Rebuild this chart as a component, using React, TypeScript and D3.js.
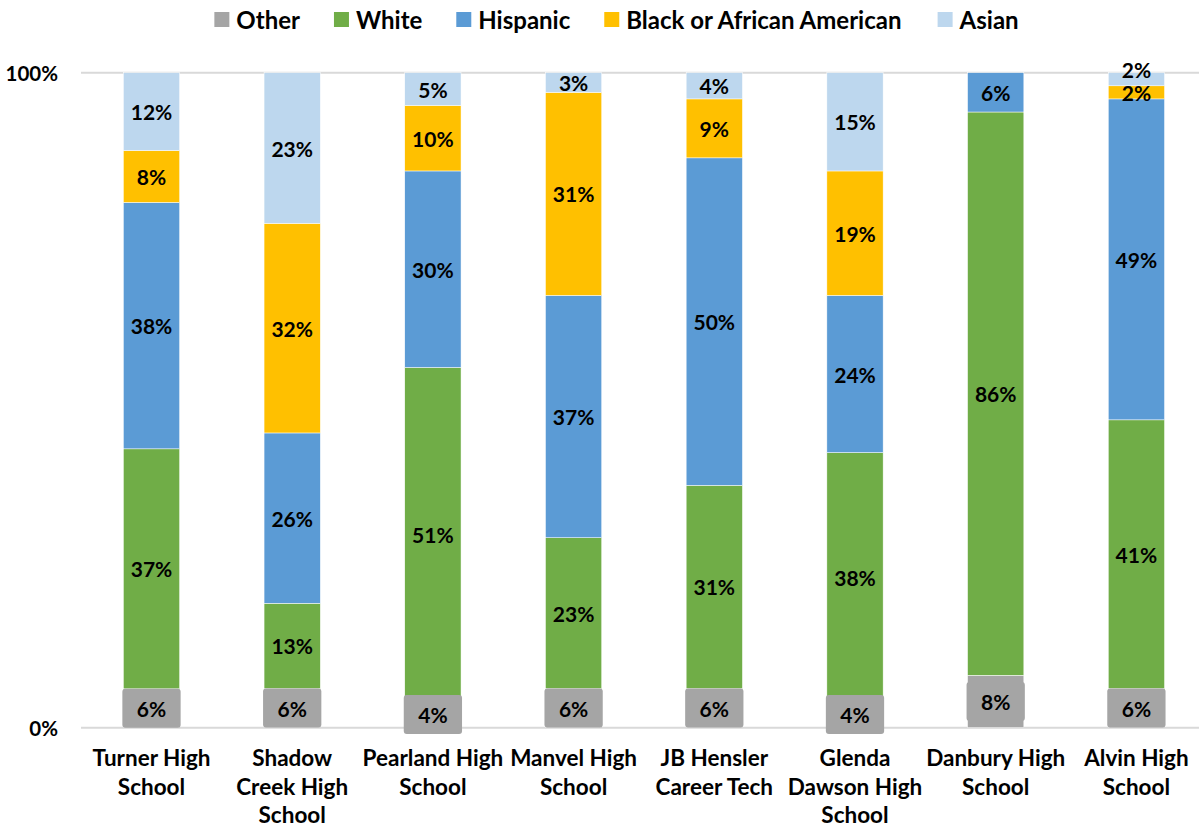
import React, { useMemo } from "react";
import * as d3 from "d3";

const categories = [
  "Turner High\nSchool",
  "Shadow\nCreek High\nSchool",
  "Pearland High\nSchool",
  "Manvel High\nSchool",
  "JB Hensler\nCareer Tech",
  "Glenda\nDawson High\nSchool",
  "Danbury High\nSchool",
  "Alvin High\nSchool",
];
const seriesNames = ["Other", "White", "Hispanic", "Black or African American", "Asian"];
const other = [6, 6, 4, 6, 6, 4, 8, 6];
const white = [37, 13, 51, 23, 31, 38, 86, 41];
const hispanic = [38, 26, 30, 37, 50, 24, 6, 49];
const black = [8, 32, 10, 31, 9, 19, 0, 2];
const asian = [12, 23, 5, 3, 4, 15, 0, 2];
const yTicks = [0, 1];
const seriesColors = ["#A5A5A5", "#70AD47", "#5B9BD5", "#FFC000", "#BDD7EE"];

const W = 1199;
const H = 830;
const FONT = "Lato, 'Open Sans', 'DejaVu Sans', sans-serif";

export default function App() {
  const seriesValues = [other, white, hispanic, black, asian];
  const rows = categories.map((c, i) => {
    const r: Record<string, any> = { cat: c };
    seriesNames.forEach((s, k) => (r[s] = seriesValues[k][i]));
    return r;
  });
  const stacked = d3.stack<any>().keys(seriesNames).offset(d3.stackOffsetExpand)(rows);

  const x = d3.scaleBand<string>().domain(categories).range([81.15, 1206.75]).paddingInner(0.6).paddingOuter(0.3);
  const y = d3.scaleLinear().domain([0, 1]).range([727.7, 72.7]);
  const bw = x.bandwidth();

  const legend = useMemo(() => {
    const canvas = document.createElement("canvas");
    const ctx = canvas.getContext("2d")!;
    ctx.font = `bold 24px ${FONT}`;
    const sq = 15, gapIn = 7, gapOut = 34;
    const widths = seriesNames.map((s) => ctx.measureText(s).width);
    const total = widths.reduce((a, w) => a + sq + gapIn + w, 0) + gapOut * (seriesNames.length - 1);
    let cx = 616.5 - total / 2;
    return seriesNames.map((s, i) => {
      const item = { name: s, x: cx, tx: cx + sq + gapIn, color: seriesColors[i] };
      cx += sq + gapIn + widths[i] + gapOut;
      return item;
    });
  }, []);

  return (
    <div style={{ position: "absolute", left: 0, top: 0 }}>
      <svg width={W} height={H} style={{ display: "block", background: "#fff" }}>
        {yTicks.map((t) => (
          <line key={t} x1={81} x2={W} y1={y(t)} y2={y(t)} stroke="#D9D9D9" strokeWidth={2} />
        ))}
        {yTicks.map((t) => (
          <text
            key={"yl" + t}
            x={58}
            y={y(t)}
            textAnchor="end"
            dominantBaseline="central"
            fontFamily={FONT}
            fontWeight="bold"
            fontSize={20.5}
            fill="#000"
          >
            {d3.format(".0%")(t)}
          </text>
        ))}
        {stacked.map((layer, k) => (
          <g key={layer.key} fill={seriesColors[k]}>
            {layer.map((d, i) => {
              const y0 = y(d[0]);
              const y1 = y(d[1]);
              if (y0 - y1 <= 0) return null;
              return (
                <rect
                  key={i}
                  x={x(categories[i])}
                  y={y1}
                  width={bw}
                  height={y0 - y1}
                  stroke="#fff"
                  strokeWidth={0.5}
                />
              );
            })}
          </g>
        ))}
        {stacked[0].map((d, i) => {
          const cy = (y(d[0]) + y(d[1])) / 2;
          return (
            <rect
              key={"ob" + i}
              x={(x(categories[i]) as number) - 1}
              y={cy - 19.5}
              width={bw + 2}
              height={39}
              rx={3}
              fill={seriesColors[0]}
            />
          );
        })}
        {stacked.map((layer, k) =>
          layer.map((d, i) => {
            const v = seriesValues[k][i];
            if (!v) return null;
            const y0 = y(d[0]);
            const y1 = y(d[1]);
            let cy = (y0 + y1) / 2;
            if (k === stacked.length - 1 && y0 - y1 < 18) cy -= 10;
            return (
              <text
                key={"dl" + k + "-" + i}
                x={(x(categories[i]) as number) + bw / 2}
                y={cy}
                textAnchor="middle"
                dominantBaseline="central"
                fontFamily={FONT}
                fontWeight="bold"
                fontSize={21}
                fill="#000"
              >
                {v + "%"}
              </text>
            );
          })
        )}
        {categories.map((c) => (
          <text
            key={"cl" + c}
            textAnchor="middle"
            fontFamily={FONT}
            fontWeight="bold"
            fontSize={22.5}
            fill="#000"
          >
            {c.split("\n").map((line, j) => (
              <tspan key={j} x={(x(c) as number) + bw / 2} y={766 + j * 28.5}>
                {line}
              </tspan>
            ))}
          </text>
        ))}
        {legend.map((l) => (
          <g key={"lg" + l.name}>
            <rect x={l.x} y={12} width={15} height={15} fill={l.color} />
            <text
              x={l.tx}
              y={19.5}
              dominantBaseline="central"
              fontFamily={FONT}
              fontWeight="bold"
              fontSize={24}
              fill="#000"
            >
              {l.name}
            </text>
          </g>
        ))}
      </svg>
    </div>
  );
}
